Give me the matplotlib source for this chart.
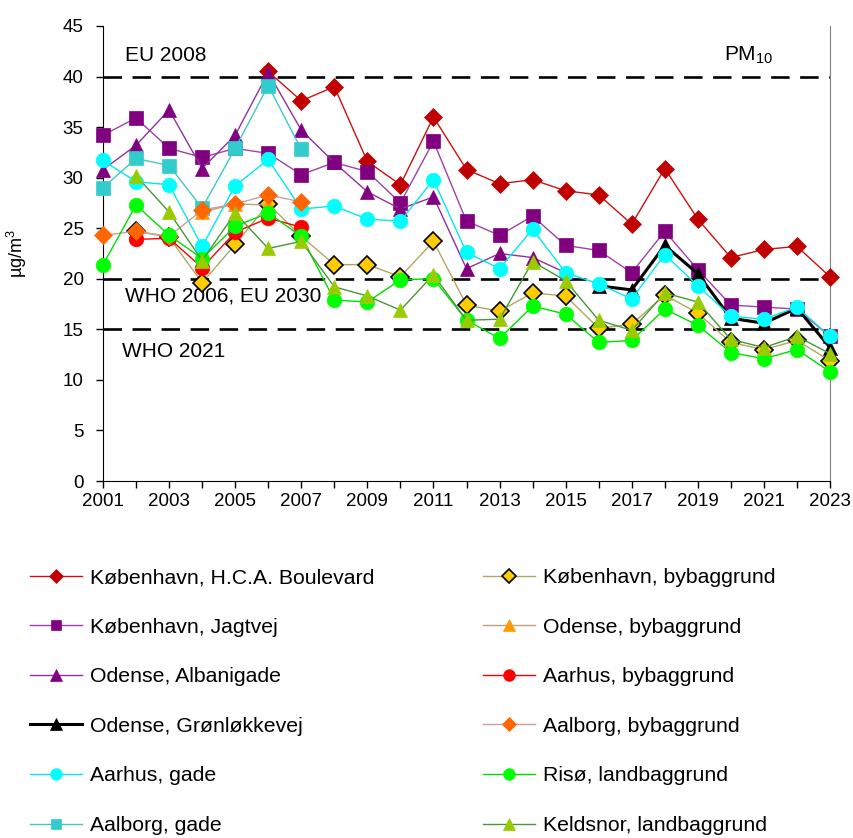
import numpy as np
import matplotlib
matplotlib.use("Agg")
from matplotlib import pyplot as plt

plt.rcParams['font.family'] = ['Liberation Sans', 'DejaVu Sans']
plt.rcParams['mathtext.default'] = 'regular'

nan = np.nan
years = list(range(2001, 2024))

hca = [nan, nan, nan, nan, nan, 40.5, 37.6, 39.0, 31.6, 29.3, 36.0, 30.8, 29.4, 29.8,
       28.7, 28.3, 25.4, 30.9, 25.9, 22.1, 22.9, 23.2, 20.2]
jagtvej = [34.2, 35.9, 32.9, 32.0, 32.9, 32.4, 30.3, 31.5, 30.6, 27.5, 33.6, 25.7, 24.3,
           26.2, 23.3, 22.8, 20.6, 24.7, 20.9, 17.4, 17.2, 17.0, 14.3]
albanigade = [30.8, 33.2, 36.7, 30.9, 34.2, 40.4, 34.7, 31.5, 28.6, 26.9, 28.1, 21.0,
              22.5, 22.1, 20.6, nan, nan, nan, nan, nan, nan, nan, nan]
gronlokke = [nan] * 15 + [19.3, 18.9, 23.3, 20.5, 16.1, 15.6, 17.1, 13.2]
aarhus_gade = [31.7, 29.6, 29.3, 23.2, 29.2, 31.8, 26.9, 27.2, 25.9, 25.7, 29.8, 22.6,
               21.0, 24.9, 20.6, 19.5, 18.0, 22.4, 19.3, 16.3, 16.0, 17.2, 14.3]
aalborg_gade = [29.0, 31.9, 31.2, 27.0, 32.9, 39.1, 32.8] + [nan] * 16
kbh_by = [nan, 24.7, 24.1, 19.6, 23.4, 27.4, 24.2, 21.4, 21.4, 20.2, 23.7, 17.4, 16.8,
          18.6, 18.3, 15.1, 15.5, 18.4, 16.6, 13.7, 13.0, 13.9, 11.9]
odense_by = [nan, nan, nan, 26.6, 27.4, 27.3] + [nan] * 17
aarhus_by = [nan, 23.9, 24.0, 21.1, 24.6, 26.0, 25.1] + [nan] * 16
aalborg_by = [24.3, 24.7, 24.2, 26.8, 27.4, 28.3, 27.6] + [nan] * 16
riso = [21.4, 27.3, 24.3, 22.0, 25.2, 26.5, 24.2, 17.9, 17.7, 19.9, 20.0, 15.9, 14.1,
        17.3, 16.5, 13.7, 13.9, 17.0, 15.4, 12.7, 12.1, 13.0, 10.8]
keldsnor = [nan, 30.2, 26.6, 21.8, 26.5, 23.0, 23.7, 19.2, 18.3, 16.9, 20.4, 15.9, 16.0,
            21.7, 19.8, 15.9, 14.9, 18.6, 17.7, 14.0, 13.2, 14.3, 12.6]

limits = [40, 20, 15]

# (label, data, marker, marker colour, edge colour, line colour, line width)
series = [
    ('København, H.C.A. Boulevard', hca, 'D', '#C00000', '#C00000', '#CC1010', 1.0),
    ('København, Jagtvej', jagtvej, 's', '#800080', '#800080', '#A040A8', 1.0),
    ('Odense, Albanigade', albanigade, '^', '#800080', '#800080', '#9030A0', 1.0),
    ('Odense, Grønløkkevej', gronlokke, '^', 'black', 'black', 'black', 2.2),
    ('Aarhus, gade', aarhus_gade, 'o', '#00FFFF', '#00FFFF', '#00E8F0', 1.0),
    ('Aalborg, gade', aalborg_gade, 's', '#33CCCC', '#33CCCC', '#40C8C8', 1.0),
    ('København, bybaggrund', kbh_by, 'D', '#FFCC00', 'black', '#B0A860', 1.0),
    ('Odense, bybaggrund', odense_by, '^', '#FF9900', '#FF9900', '#C0A080', 1.0),
    ('Aarhus, bybaggrund', aarhus_by, 'o', '#FF0000', '#FF0000', '#FF0000', 1.0),
    ('Aalborg, bybaggrund', aalborg_by, 'D', '#FF6600', '#FF6600', '#C8A0A0', 1.0),
    ('Risø, landbaggrund', riso, 'o', '#00FF00', '#00FF00', '#00DD00', 1.0),
    ('Keldsnor, landbaggrund', keldsnor, '^', '#99CC00', '#99CC00', '#449933', 1.0),
]
sizes = {'D': 9, 's': 9.5, 'o': 10.5, '^': 10}

fig = plt.figure(figsize=(8.54, 8.38), dpi=100)
ax = fig.add_axes([103 / 854, 1 - 481 / 838, 727 / 854, 455 / 838])

for y in limits:
    ax.axhline(y, color='black', lw=1.9, ls=(0, (7, 4)), zorder=1)

handles = []
for i, (lab, vals, mk, fc, ec, lc, lw) in enumerate(series):
    mew = 1.2 if ec == 'black' and mk == 'D' else 0.5
    h, = ax.plot(years, vals, color=lc, lw=lw, marker=mk, markersize=sizes[mk],
                 markerfacecolor=fc, markeredgecolor=ec, markeredgewidth=mew,
                 label=lab, clip_on=False, zorder=3 + i)
    handles.append(h)

ax.set_xlim(2001, 2023)
ax.set_ylim(0, 45)
ax.set_yticks(range(0, 46, 5))
ax.set_xticks(range(2001, 2024, 2))
ax.set_xticks(range(2002, 2023, 2), minor=True)
ax.tick_params(axis='both', direction='out', length=5, width=1, labelsize=13.5)
ax.tick_params(axis='y', pad=9)
ax.tick_params(axis='x', which='minor', direction='out', length=5, width=1)
ax.spines['top'].set_visible(False)
ax.spines['right'].set_color('#808080')
ax.set_ylabel('µg/m$^3$', fontsize=13, labelpad=24)

ax.text(2001.67, 42.1, 'EU 2008', fontsize=15, va='center')
ax.text(2019.8, 42.1, 'PM$_{10}$', fontsize=15, va='center')
ax.text(2001.67, 18.3, 'WHO 2006, EU 2030', fontsize=15, va='center')
ax.text(2001.57, 12.8, 'WHO 2021', fontsize=15, va='center')

fig.legend(handles=handles, loc='upper left', bbox_to_anchor=(30 / 854, 1 - 568 / 838),
           ncol=2, frameon=False, fontsize=15.3, handlelength=2.45,
           handletextpad=0.38, labelspacing=1.44, columnspacing=5.1,
           borderaxespad=0, borderpad=0, markerscale=0.8)

fig.savefig('out.png', dpi=100)
